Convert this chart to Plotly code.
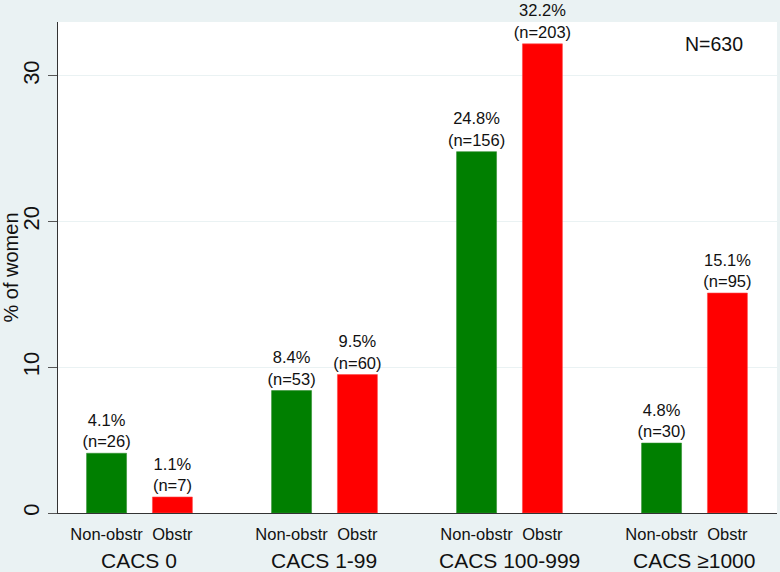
import plotly.graph_objects as go

groups = ["CACS 0", "CACS 1-99", "CACS 100-999", "CACS \u22651000"]
series_names = ["Non-obstr", "Obstr"]
non_obstr_pct = [4.1, 8.4, 24.8, 4.8]
non_obstr_n = [26, 53, 156, 30]
obstr_pct = [1.1, 9.5, 32.2, 15.1]
obstr_n = [7, 60, 203, 95]
total_n = 630
y_ticks = [0, 10, 20, 30]

BG = "#eaf2f3"
FONT = "Liberation Sans, Arial, Helvetica, sans-serif"
d = 0.178
w = 0.216

idx = list(range(len(groups)))
x_non = [i - d for i in idx]
x_obs = [i + d for i in idx]

label_font = dict(size=16.5, color="#111", family=FONT)

fig = go.Figure()
fig.add_trace(go.Bar(
    x=x_non, y=non_obstr_pct, width=w, name=series_names[0],
    marker=dict(color="#007f00", line=dict(color="#2f8f2f", width=0.6)),
    text=[f"{p:.1f}%<br>(n={n})" for p, n in zip(non_obstr_pct, non_obstr_n)],
    textposition="outside", cliponaxis=False, constraintext="none",
    textfont=label_font,
))
fig.add_trace(go.Bar(
    x=x_obs, y=obstr_pct, width=w, name=series_names[1],
    marker=dict(color="#ff0000", line=dict(color="#ff4a4a", width=0.6)),
    text=[f"{p:.1f}%<br>(n={n})" for p, n in zip(obstr_pct, obstr_n)],
    textposition="outside", cliponaxis=False, constraintext="none",
    textfont=label_font,
))

for i, g in enumerate(groups):
    fig.add_annotation(x=i, y=0, xref="x", yref="paper", text=g, showarrow=False,
                       yanchor="middle", yshift=-47,
                       font=dict(size=21, color="#111", family=FONT))

fig.add_annotation(x=0.955, y=0.955, xref="paper", yref="paper", text=f"N={total_n}",
                   showarrow=False, xanchor="right", yanchor="middle",
                   font=dict(size=19.5, color="#111", family=FONT))

tickvals = []
ticktext = []
for a, b in zip(x_non, x_obs):
    tickvals += [a, b]
    ticktext += series_names

fig.update_layout(
    width=780, height=572,
    margin=dict(l=58, r=3, t=22, b=59),
    paper_bgcolor=BG, plot_bgcolor="white",
    barmode="overlay", showlegend=False,
    font=dict(family=FONT, color="#111"),
    xaxis=dict(range=[-0.4405, 3.446], tickvals=tickvals, ticktext=ticktext,
               showgrid=False, zeroline=False, showline=True, linecolor="#333",
               linewidth=1.2, ticks="", ticklabelstandoff=6,
               tickfont=dict(size=16.5, color="#111", family=FONT)),
    yaxis=dict(range=[0, 33.7], tickvals=y_ticks, showgrid=True, gridcolor=BG,
               gridwidth=1.2, zeroline=False, showline=True, linecolor="#333",
               linewidth=1.2, ticks="outside", ticklen=9, tickcolor="#555",
               tickangle=-90, tickfont=dict(size=22, color="#111", family=FONT),
               title=dict(text="% of women", font=dict(size=20, color="#111", family=FONT),
                          standoff=3)),
)

fig.write_html("out.html")
